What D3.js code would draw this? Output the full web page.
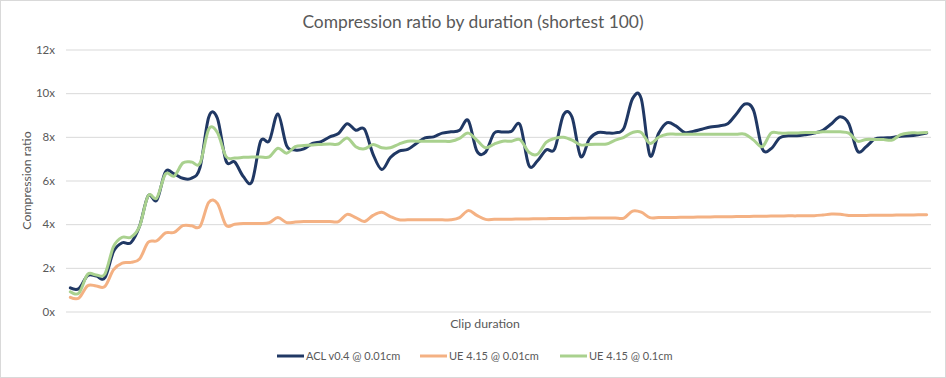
<!DOCTYPE html>
<html>
<head>
<meta charset="utf-8">
<script src="https://cdn.jsdelivr.net/npm/d3@7"></script>
<style>
  body { margin: 0; background: #fff; }
  svg { display: block; font-family: Lato, "Open Sans", sans-serif; }
</style>
</head>
<body>
<div id="chart"></div>
<script>
// clip index 1..100 (shortest 100 clips)
const clips = d3.range(1, 101);

const aclValues = [
    1.08, 1.05, 1.65, 1.62, 1.55, 2.75, 3.15, 3.15, 3.9, 5.3,
    5.1, 6.4, 6.3, 6.1, 6.1, 6.6, 8.9, 8.85, 6.9, 6.85,
    6.18, 5.95, 7.8, 7.82, 9.05, 7.6, 7.4, 7.45, 7.7, 7.78,
    8.0, 8.15, 8.6, 8.3, 8.35, 7.2, 6.5, 7.05, 7.35, 7.42,
    7.7, 7.95, 8.0, 8.17, 8.23, 8.3, 8.75, 7.35, 7.3, 8.17,
    8.22, 8.25, 8.55, 6.7, 6.9, 7.4, 7.45, 9.0, 8.9, 7.1,
    7.9, 8.2, 8.18, 8.18, 8.4, 9.75, 9.75, 7.15, 8.15, 8.65,
    8.5, 8.2, 8.25, 8.35, 8.45, 8.5, 8.6, 9.05, 9.5, 9.2,
    7.45, 7.45, 7.95, 8.05, 8.05, 8.1, 8.17, 8.3, 8.6, 8.92,
    8.6, 7.35, 7.55, 7.9, 7.95, 7.97, 8.03, 8.05, 8.1, 8.17
];

const ue001Values = [
    0.65, 0.62, 1.18, 1.17, 1.15, 1.92, 2.22, 2.25, 2.4, 3.17,
    3.24, 3.6, 3.62, 3.93, 3.93, 3.9, 5.0, 4.95, 3.95, 4.0,
    4.03, 4.03, 4.03, 4.07, 4.3, 4.07, 4.1, 4.12, 4.12, 4.12,
    4.12, 4.12, 4.45, 4.3, 4.12, 4.4, 4.55, 4.35, 4.2, 4.2,
    4.2, 4.2, 4.2, 4.2, 4.2, 4.3, 4.62, 4.4, 4.22, 4.22,
    4.23, 4.23, 4.24, 4.24, 4.25, 4.25, 4.26, 4.26, 4.27, 4.27,
    4.28, 4.28, 4.28, 4.28, 4.28, 4.6, 4.55, 4.3, 4.3, 4.31,
    4.31, 4.32, 4.32, 4.33, 4.33, 4.34, 4.34, 4.35, 4.35, 4.36,
    4.36, 4.37, 4.37, 4.38, 4.38, 4.39, 4.39, 4.42, 4.46, 4.45,
    4.4, 4.4, 4.4, 4.41, 4.41, 4.41, 4.42, 4.42, 4.43, 4.43
];

const ue01Values = [
    0.9, 0.85, 1.7, 1.67, 1.72, 2.98, 3.4, 3.4, 3.9, 5.3,
    5.2, 6.3, 6.2, 6.8, 6.85, 6.8, 8.35, 8.2, 7.1, 7.03,
    7.06, 7.08, 7.08, 7.08, 7.48, 7.25, 7.55, 7.6, 7.63, 7.65,
    7.67, 7.67, 7.95, 7.55, 7.45, 7.65, 7.5, 7.5, 7.67, 7.8,
    7.8, 7.8, 7.8, 7.8, 7.8, 7.93, 8.17, 7.85, 7.5, 7.67,
    7.8, 7.8, 7.87, 7.3, 7.2, 7.75, 7.93, 7.98, 7.85, 7.63,
    7.65, 7.66, 7.67, 7.85, 7.98, 8.2, 8.2, 7.7, 7.98, 8.12,
    8.12, 8.12, 8.12, 8.12, 8.12, 8.12, 8.12, 8.12, 8.12, 7.85,
    7.55, 8.17, 8.17, 8.17, 8.18, 8.2, 8.2, 8.23, 8.23, 8.23,
    8.17, 7.8, 7.88, 7.88, 7.88, 7.85, 8.1, 8.18, 8.18, 8.2
];

const seriesNames = ["ACL v0.4 @ 0.01cm", "UE 4.15 @ 0.01cm", "UE 4.15 @ 0.1cm"];
const yTicks = [0, 2, 4, 6, 8, 10, 12];

const COLORS = ["#203864", "#f4b183", "#a9d18e"];
const TEXT = "#595959", GRID = "#d9d9d9";

const width = 946, height = 378;
const plot = { left: 66, right: 931, top: 49.5, bottom: 311.5 };

const svg = d3.select("#chart")
    .append("svg")
    .attr("width", width)
    .attr("height", height);

// chart area + border
svg.append("rect")
    .attr("x", 0.5).attr("y", 0.5)
    .attr("width", width - 1).attr("height", height - 1)
    .attr("fill", "#fff")
    .attr("stroke", GRID);

svg.append("text")
    .attr("x", 473)
    .attr("y", 28)
    .attr("text-anchor", "middle")
    .attr("font-size", 17.4)
    .attr("fill", TEXT)
    .text("Compression ratio by duration (shortest 100)");

/** scales */
let xScale = d3.scalePoint()
    .domain(clips)
    .range([plot.left, plot.right])
    .padding(0.5);

let yScale = d3.scaleLinear()
    .domain([0, 12])
    .range([plot.bottom, plot.top]);

/** y axis + grid */
let axisY = d3.axisLeft(yScale)
    .tickValues(yTicks)
    .tickSize(-(plot.right - plot.left))
    .tickPadding(11)
    .tickFormat(d => d + "x");

let gy = svg.append("g")
    .attr("class", "axis_y")
    .attr("transform", `translate(${plot.left}, 0)`)
    .call(axisY);

gy.select(".domain").remove();
gy.selectAll("line").attr("stroke", GRID);
gy.selectAll("text")
    .attr("fill", TEXT)
    .attr("font-size", 11.5)
    .attr("font-family", "Lato, sans-serif");

/* axis titles */
svg.append("text")
    .attr("transform", `translate(31, ${(plot.top + plot.bottom) / 2}) rotate(-90)`)
    .attr("text-anchor", "middle")
    .attr("font-size", 12.3)
    .attr("fill", TEXT)
    .text("Compression ratio");

svg.append("text")
    .attr("x", 485)
    .attr("y", 328)
    .attr("text-anchor", "middle")
    .attr("font-size", 12.3)
    .attr("fill", TEXT)
    .text("Clip duration");

/* draw lines */
const series = [aclValues, ue001Values, ue01Values];
const line = d3.line()
    .x((d, i) => xScale(clips[i]))
    .y(d => yScale(d))
    .curve(d3.curveCatmullRom.alpha(0));

// Excel draws the last series on top
[0, 1, 2].forEach(k => {
    svg.append("path")
        .attr("class", "line")
        .attr("fill", "none")
        .attr("stroke", COLORS[k])
        .attr("stroke-width", 3)
        .attr("stroke-linejoin", "round")
        .attr("stroke-linecap", "round")
        .attr("d", line(series[k]));
});

/* legend */
const legendX = [277, 420, 560];
let legend = svg.append("g").attr("class", "legend");
seriesNames.forEach((name, k) => {
    legend.append("line")
        .attr("x1", legendX[k])
        .attr("x2", legendX[k] + 27)
        .attr("y1", 356)
        .attr("y2", 356)
        .attr("stroke", COLORS[k])
        .attr("stroke-width", 3);
    legend.append("text")
        .attr("x", legendX[k] + 29)
        .attr("y", 360)
        .attr("font-size", 11)
        .attr("fill", TEXT)
        .text(name);
});
</script>
</body>
</html>
